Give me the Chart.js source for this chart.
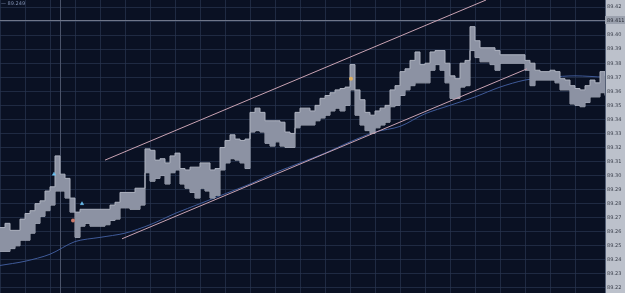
<!DOCTYPE html>
<html>
<head>
<meta charset="utf-8">
<script src="https://cdn.jsdelivr.net/npm/chart.js@4/dist/chart.umd.min.js"></script>
<style>
  html, body { margin: 0; padding: 0; background: #0a1123; }
  #wrap { width: 625px; height: 293px; position: relative; }
</style>
</head>
<body>
<div id="wrap"><canvas id="chart"></canvas></div>
<script>
// === Data (one entry per bar, bar index = position in array) ===
const priceTicks = [89.22, 89.23, 89.24, 89.25, 89.26, 89.27, 89.28, 89.29, 89.30, 89.31,
                    89.32, 89.33, 89.34, 89.35, 89.36, 89.37, 89.38, 89.39, 89.40, 89.41, 89.42];

// upper edge of the bid/ask band
const bandHigh = [
  89.263, 89.266, 89.261, 89.261, 89.269, 89.273, 89.275, 89.280, 89.282, 89.289,
  89.292, 89.314, 89.301, 89.298, 89.284, 89.274, 89.276, 89.276, 89.276, 89.276,
  89.276, 89.276, 89.279, 89.281, 89.288, 89.288, 89.288, 89.291, 89.291, 89.319,
  89.318, 89.311, 89.312, 89.309, 89.314, 89.316, 89.305, 89.304, 89.306, 89.306,
  89.309, 89.309, 89.304, 89.305, 89.320, 89.325, 89.329, 89.326, 89.325, 89.326,
  89.345, 89.348, 89.345, 89.339, 89.339, 89.339, 89.338, 89.331, 89.330, 89.345,
  89.348, 89.348, 89.346, 89.350, 89.355, 89.357, 89.359, 89.361, 89.362, 89.363,
  89.379, 89.361, 89.354, 89.345, 89.343, 89.346, 89.348, 89.350, 89.361, 89.364,
  89.374, 89.376, 89.382, 89.388, 89.379, 89.380, 89.388, 89.389, 89.389, 89.380,
  89.371, 89.369, 89.380, 89.382, 89.406, 89.396, 89.391, 89.391, 89.391, 89.389,
  89.386, 89.386, 89.386, 89.386, 89.386, 89.382, 89.380, 89.375, 89.374, 89.374,
  89.375, 89.374, 89.369, 89.368, 89.364, 89.362, 89.361, 89.364, 89.368, 89.366,
  89.374, 89.371
];
// lower edge of the band
const bandLow = [
  89.246, 89.246, 89.248, 89.250, 89.254, 89.254, 89.259, 89.266, 89.271, 89.275,
  89.279, 89.289, 89.289, 89.284, 89.274, 89.256, 89.264, 89.266, 89.264, 89.264,
  89.264, 89.265, 89.268, 89.269, 89.277, 89.277, 89.276, 89.276, 89.279, 89.302,
  89.296, 89.298, 89.300, 89.294, 89.302, 89.304, 89.294, 89.291, 89.288, 89.284,
  89.291, 89.289, 89.284, 89.286, 89.304, 89.309, 89.312, 89.311, 89.309, 89.305,
  89.331, 89.332, 89.331, 89.323, 89.321, 89.324, 89.321, 89.320, 89.320, 89.334,
  89.336, 89.336, 89.336, 89.339, 89.341, 89.343, 89.346, 89.348, 89.346, 89.350,
  89.361, 89.343, 89.336, 89.332, 89.330, 89.334, 89.336, 89.338, 89.349, 89.350,
  89.357, 89.361, 89.364, 89.366, 89.366, 89.366, 89.375, 89.379, 89.375, 89.366,
  89.355, 89.355, 89.363, 89.364, 89.389, 89.384, 89.381, 89.381, 89.379, 89.375,
  89.380, 89.380, 89.380, 89.380, 89.380, 89.375, 89.364, 89.368, 89.368, 89.368,
  89.368, 89.366, 89.361, 89.361, 89.351, 89.350, 89.349, 89.352, 89.356, 89.356,
  89.359, 89.357
];

// moving average (bar index / value)
const maBars   = [0, 5, 10, 15, 20, 25, 30, 35, 40, 45, 50, 55, 60, 65, 70, 75, 80, 85, 90, 95, 100, 105, 110, 115, 121];
const maValues = [89.236, 89.239, 89.244, 89.253, 89.256, 89.259, 89.265, 89.273, 89.280, 89.287,
                  89.294, 89.302, 89.309, 89.316, 89.324, 89.331, 89.335, 89.344, 89.350, 89.356,
                  89.363, 89.368, 89.370, 89.371, 89.370];

// trend channel (start/end bar and price)
const channelUpperBars = [21, 97.2];
const channelUpperVals = [89.311, 89.425];
const channelLowerBars = [24.4, 105.4];
const channelLowerVals = [89.255, 89.376];

// trade markers
const buyBars = [10.8, 16.4];
const buyVals = [89.301, 89.280];
const exitBars = [14.6, 70.2];
const exitVals = [89.268, 89.369];
const exitColors = ['#c8786a', '#e0b060'];

const lastPrice = 89.411;
const cursorBar = 12;
const legendText = '89.249';

const toXY = (xs, ys) => xs.map((x, i) => ({ x: x, y: ys[i] }));
const byIndex = arr => arr.map((v, i) => ({ x: i, y: v }));

// === Custom drawing: background, axis panel, price line, cursor ===
const chromePlugin = {
    id: 'chrome',
    beforeDraw(chart) {
        const { ctx, scales } = chart;
        ctx.save();
        ctx.fillStyle = '#0a1123';
        ctx.fillRect(0, 0, chart.width, chart.height);
        // right price panel
        ctx.fillStyle = '#bcc1cb';
        ctx.fillRect(scales.y.left, 0, chart.width - scales.y.left, chart.height);
        ctx.restore();
    },
    beforeDatasetsDraw(chart) {
        const { ctx, chartArea, scales } = chart;
        ctx.save();
        // cursor
        const cx = Math.round(scales.x.getPixelForValue(cursorBar)) + 0.5;
        ctx.strokeStyle = '#4a5369';
        ctx.lineWidth = 1;
        ctx.beginPath();
        ctx.moveTo(cx, chartArea.top);
        ctx.lineTo(cx, chartArea.bottom);
        ctx.stroke();
        // last price line
        const py = Math.round(scales.y.getPixelForValue(lastPrice)) + 0.5;
        ctx.strokeStyle = '#6f7689';
        ctx.beginPath();
        ctx.moveTo(chartArea.left, py);
        ctx.lineTo(chartArea.right, py);
        ctx.stroke();
        ctx.restore();
    },
    afterDraw(chart) {
        const { ctx, scales } = chart;
        ctx.save();
        const py = Math.round(scales.y.getPixelForValue(lastPrice));
        ctx.fillStyle = '#9ba1ae';
        ctx.fillRect(scales.y.left, py - 4, chart.width - scales.y.left, 8);
        ctx.fillStyle = '#2b2f3a';
        ctx.font = '5px "DejaVu Sans"';
        ctx.textBaseline = 'middle';
        ctx.fillText(lastPrice.toFixed(3), scales.y.left + 2, py + 0.5);
        // legend text top left
        ctx.fillStyle = '#7f8fb0';
        ctx.fillText('\u2014 ' + legendText, 1, 4);
        ctx.restore();
    }
};

const gridColor = 'rgba(40, 52, 80, 0.7)';

new Chart(document.getElementById('chart'), {
    type: 'line',
    data: {
        datasets: [
            {
                label: 'High',
                data: byIndex(bandHigh),
                stepped: true,
                borderColor: '#aeb3c0',
                borderWidth: 1,
                backgroundColor: '#8c92a3',
                fill: '+1',
                pointRadius: 0,
                order: 3
            },
            {
                label: 'Low',
                data: byIndex(bandLow),
                stepped: true,
                borderColor: '#aeb3c0',
                borderWidth: 1,
                fill: false,
                pointRadius: 0,
                order: 3
            },
            {
                label: 'MA',
                data: toXY(maBars, maValues),
                borderColor: '#3f5a98',
                borderWidth: 1,
                tension: 0.3,
                fill: false,
                pointRadius: 0,
                order: 4
            },
            {
                label: 'Channel upper',
                data: toXY(channelUpperBars, channelUpperVals),
                borderColor: '#c9a3b3',
                borderWidth: 1,
                fill: false,
                pointRadius: 0,
                order: 1
            },
            {
                label: 'Channel lower',
                data: toXY(channelLowerBars, channelLowerVals),
                borderColor: '#c9a3b3',
                borderWidth: 1,
                fill: false,
                pointRadius: 0,
                order: 1
            },
            {
                label: 'Buy',
                type: 'scatter',
                data: toXY(buyBars, buyVals),
                pointStyle: 'triangle',
                pointRadius: 2,
                backgroundColor: '#6cc0f0',
                borderColor: '#6cc0f0',
                borderWidth: 0.5,
                order: 0
            },
            {
                label: 'Exit',
                type: 'scatter',
                data: toXY(exitBars, exitVals),
                pointRadius: 2,
                backgroundColor: exitColors,
                borderWidth: 0,
                order: 0
            }
        ]
    },
    options: {
        responsive: true,
        maintainAspectRatio: false,
        animation: false,
        layout: { padding: 0, autoPadding: false },
        plugins: { legend: { display: false }, tooltip: { enabled: false } },
        scales: {
            x: {
                type: 'linear',
                min: 0,
                max: 121,
                ticks: { display: false, stepSize: 5 },
                grid: { color: gridColor, drawTicks: false },
                border: { display: false },
                afterFit(scale) { scale.height = 0; }
            },
            y: {
                position: 'right',
                min: 89.2164,
                max: 89.425,
                afterBuildTicks(scale) {
                    scale.ticks = priceTicks.map(v => ({ value: v }));
                },
                ticks: {
                    color: '#3a3f4b',
                    font: { family: 'DejaVu Sans', size: 5 },
                    padding: 2,
                    callback: v => v.toFixed(2)
                },
                grid: { color: gridColor, drawTicks: false },
                border: { display: false },
                afterFit(scale) {
                    scale.width = 20;
                    scale.paddingTop = 0;
                    scale.paddingBottom = 0;
                }
            }
        }
    },
    plugins: [chromePlugin]
});
</script>
</body>
</html>
